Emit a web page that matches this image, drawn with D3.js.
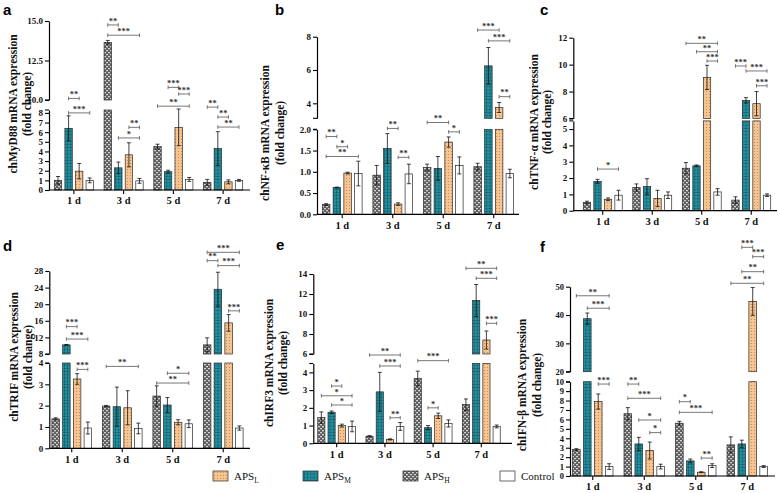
<!DOCTYPE html>
<html><head><meta charset="utf-8">
<script src="https://cdn.jsdelivr.net/npm/d3@7"></script>
<style>body{margin:0;background:#fff} svg{display:block}</style>
</head><body><svg id="c" width="778" height="493"></svg>
<script>
const days = ["1 d","3 d","5 d","7 d"];
const seriesKeys = ["H","M","L","C"];   // APS_H, APS_M, APS_L, Control (order within each day)

// a: chMyD88
const myd88Mean = [[1.0,13.65,4.5,0.8],[6.4,2.3,1.9,4.3],[1.95,3.65,6.5,0.85],[1.0,0.95,1.1,1.0]];
const myd88Err  = [[0.4,0.12,0.25,0.3],[1.3,0.6,0.15,1.75],[0.8,1.25,1.9,0.2],[0.25,0.25,0.2,0.1]];
const myd88Sig  = [[0,1,2,10.1,"**"],[0,1,3,8.0,"***"],[1,0,1,14.75,"**"],[1,0,3,14.1,"***"],[1,2,3,6.5,"**"],[1,1,3,5.4,"*"],
                   [2,1,2,10.8,"***"],[2,2,3,10.38,"***"],[2,0,3,8.7,"**"],[3,0,1,8.6,"**"],[3,1,2,7.57,"**"],[3,1,3,6.53,"**"]];
const myd88LoTicks = [0,1,2,3,4,5,6,7,8], myd88LoLabels = ["0","1","2","3","4","5","6","7","8"];
const myd88UpTicks = [10,12.5,15], myd88UpLabels = ["10.0","12.5","15.0"];

// b: chNF-κB
const nfkbMean = [[0.23,0.92,1.1,1.12],[0.63,1.55,1.08,6.25],[0.97,0.24,1.7,3.75],[0.96,0.95,1.15,0.96]];
const nfkbErr  = [[0.02,0.23,0.08,0.08],[0.01,0.35,0.28,1.1],[0.02,0.03,0.12,0.3],[0.29,0.23,0.2,0.1]];
const nfkbSig  = [[0,0,1,1.83,"**"],[0,1,2,1.59,"*"],[0,0,3,1.36,"**"],[1,1,2,2.02,"**"],[1,2,3,1.34,"**"],
                  [2,0,2,2.16,"**"],[2,2,3,1.94,"*"],[3,0,2,8.4,"***"],[3,1,3,7.75,"***"],[3,2,3,4.4,"**"]];
const nfkbLoTicks = [0,0.5,1,1.5,2], nfkbLoLabels = ["0.0","0.5","1.0","1.5","2.0"];
const nfkbUpTicks = [4,6,8], nfkbUpLabels = ["4","6","8"];

// c: chTNF-α
const tnfMean = [[0.5,1.42,2.6,0.65],[1.8,1.48,2.75,7.35],[0.7,0.75,9.05,7.1],[0.95,0.95,1.15,0.95]];
const tnfErr  = [[0.08,0.22,0.35,0.2],[0.12,0.48,0.05,0.2],[0.08,0.5,0.9,0.9],[0.3,0.2,0.2,0.08]];
const tnfSig  = [[0,1,3,2.55,"*"],[2,0,3,11.58,"**"],[2,1,3,10.96,"**"],[2,2,3,10.27,"***"],
                 [3,0,1,9.9,"***"],[3,1,3,9.53,"***"],[3,2,3,8.43,"***"]];
const tnfLoTicks = [0,1,2,3,4,5], tnfLoLabels = ["0","1","2","3","4","5"];
const tnfUpTicks = [6,8,10,12], tnfUpLabels = ["6","8","10","12"];

// d: chTRIF
const trifMean = [[1.38,1.98,2.45,10.2],[10.2,1.95,2.03,23.6],[3.25,1.9,1.22,15.5],[0.95,0.93,1.15,0.95]];
const trifErr  = [[0.05,0.03,0.48,1.7],[0.1,0.92,0.35,4.1],[0.25,0.8,0.12,2.0],[0.28,0.25,0.18,0.1]];
const trifSig  = [[0,1,2,14.6,"***"],[0,1,3,11.6,"***"],[0,2,3,3.7,"***"],[1,0,3,3.84,"**"],[2,1,3,3.52,"*"],[2,0,3,3.06,"**"],
                  [3,0,3,32.5,"***"],[3,0,1,30.5,"**"],[3,1,3,29.3,"***"],[3,2,3,18.4,"***"]];
const trifLoTicks = [0,1,2,3,4], trifLoLabels = ["0","1","2","3","4"];
const trifUpTicks = [8,12,16,20,24,28], trifUpLabels = ["8","12","16","20","24","28"];

// e: chIRF3
const irfMean = [[1.45,0.4,3.65,2.18],[1.75,2.9,0.88,11.35],[1.0,0.22,1.55,7.4],[0.95,0.95,1.12,0.95]];
const irfErr  = [[0.32,0.03,0.42,0.32],[0.07,1.1,0.12,1.6],[0.08,0.03,0.15,0.9],[0.3,0.22,0.2,0.08]];
const irfSig  = [[0,1,2,3.23,"*"],[0,0,3,2.68,"*"],[0,1,3,2.16,"*"],[1,0,3,4.98,"**"],[1,1,3,4.36,"***"],[1,2,3,1.44,"**"],
                 [2,0,3,4.66,"***"],[2,1,2,2.0,"*"],[3,0,3,14.57,"**"],[3,1,3,13.57,"***"],[3,2,3,9.07,"***"]];
const irfLoTicks = [0,1,2,3,4], irfLoLabels = ["0","1","2","3","4"];
const irfUpTicks = [6,8,10,12,14], irfUpLabels = ["6","8","10","12","14"];

// f: chIFN-β
const ifnMean = [[2.8,6.6,5.6,3.3],[38.7,3.4,1.6,3.4],[7.9,2.7,0.4,44.8],[1.0,1.0,1.1,1.0]];
const ifnErr  = [[0.1,0.65,0.2,0.85],[2.0,0.7,0.2,0.4],[0.8,0.9,0.05,4.9],[0.3,0.25,0.2,0.1]];
const ifnSig  = [[0,0,3,46.8,"**"],[0,1,3,42.4,"***"],[0,2,3,9.75,"***"],[1,0,1,9.75,"**"],[1,0,3,8.24,"***"],[1,1,3,5.94,"*"],[1,2,3,4.6,"*"],
                 [2,0,1,7.88,"*"],[2,0,3,6.75,"***"],[2,2,3,1.9,"**"],
                 [3,1,2,63.9,"***"],[3,2,3,60.6,"***"],[3,1,3,55.3,"**"],[3,0,3,51.2,"**"]];
const ifnLoTicks = [0,1,2,3,4,5,6,7,8,9,10], ifnLoLabels = ifnLoTicks.map(String);
const ifnUpTicks = [20,30,40,50], ifnUpLabels = ["20","30","40","50"];

const legendSeries = ["L","M","H","C"];
const legendSubs = {L:"L",M:"M",H:"H"};

const svg = d3.select("#c");
const defs = svg.append("defs");
// patterns
{
  const pH = defs.append("pattern").attr("id","pH").attr("patternUnits","userSpaceOnUse").attr("width",4).attr("height",4);
  pH.append("rect").attr("width",4).attr("height",4).attr("fill","#5e5e5e");
  pH.append("rect").attr("x",0).attr("y",0).attr("width",2).attr("height",1.3).attr("fill","#d2d2d2");
  pH.append("rect").attr("x",2).attr("y",2).attr("width",2).attr("height",1.3).attr("fill","#d2d2d2");
  const pM = defs.append("pattern").attr("id","pM").attr("patternUnits","userSpaceOnUse").attr("width",3.2).attr("height",3.2);
  pM.append("rect").attr("width",3.2).attr("height",3.2).attr("fill","#2391a0");
  pM.append("path").attr("d","M0,0H3.2M0,0V3.2").attr("stroke","#0b4c57").attr("stroke-width",0.9);
  const pL = defs.append("pattern").attr("id","pL").attr("patternUnits","userSpaceOnUse").attr("width",3).attr("height",3);
  pL.append("rect").attr("width",3).attr("height",3).attr("fill","#f7c591");
  pL.append("circle").attr("cx",1.5).attr("cy",1.5).attr("r",0.6).attr("fill","#c8843f");
}
const fills = {H:"url(#pH)", M:"url(#pM)", L:"url(#pL)", C:"#ffffff"};
const serif = "'Liberation Serif','Times New Roman',serif";

function drawPanel(cfg){
  const g = svg.append("g");
  const x0 = d3.scaleBand().domain(days).range(cfg.xr).paddingInner(0.15).paddingOuter(0.075);
  const x1 = d3.scaleBand().domain(seriesKeys).range([0, x0.bandwidth()]).paddingInner(0.3).paddingOuter(0.15);
  const yLo = d3.scaleLinear().domain(cfg.loD).range(cfg.loR);
  const yUp = d3.scaleLinear().domain(cfg.upD).range(cfg.upR);
  const bw = x1.bandwidth();
  // bars
  cfg.mean.forEach((row, si) => row.forEach((v, di) => {
    const key = seriesKeys[si];
    const bx = x0(days[di]) + x1(key);
    const loTop = Math.min(v, cfg.loD[1]);
    g.append("rect").attr("x",bx).attr("y",yLo(loTop)).attr("width",bw).attr("height",yLo(0)-yLo(loTop))
      .attr("fill",fills[key]).attr("stroke","#2a2a2a").attr("stroke-width",0.7);
    const inUp = v > cfg.upD[0];
    if (inUp) {
      g.append("rect").attr("x",bx).attr("y",yUp(v)).attr("width",bw).attr("height",yUp(cfg.upD[0])-yUp(v))
        .attr("fill",fills[key]).attr("stroke","#2a2a2a").attr("stroke-width",0.7);
    }
    const e = cfg.err[si][di];
    const sc = inUp ? yUp : yLo;
    const lo = inUp ? Math.max(v-e, cfg.upD[0]) : Math.max(v-e, 0);
    const cx = bx + bw/2;
    const y1 = sc(lo), y2 = sc(v+e);
    g.append("line").attr("x1",cx).attr("x2",cx).attr("y1",y1).attr("y2",y2).attr("stroke","#111").attr("stroke-width",0.8);
    g.append("line").attr("x1",cx-2).attr("x2",cx+2).attr("y1",y2).attr("y2",y2).attr("stroke","#111").attr("stroke-width",0.8);
    g.append("line").attr("x1",cx-2).attr("x2",cx+2).attr("y1",y1).attr("y2",y1).attr("stroke","#111").attr("stroke-width",0.8);
  }));
  // y axes
  const styleAxis = (sel) => {
    sel.selectAll("path.domain").attr("stroke","#000").attr("stroke-width",1.2);
    sel.selectAll(".tick line").attr("stroke","#000").attr("stroke-width",1.1);
    sel.selectAll(".tick text").attr("font-family",serif).attr("font-weight","bold").attr("font-size",cfg.tickFs||9).attr("fill","#111");
  };
  g.append("g").attr("transform",`translate(${cfg.ax},0)`)
    .call(d3.axisLeft(yLo).tickValues(cfg.loTicks).tickFormat((d,i)=>cfg.loLabels[i]).tickSize(4).tickSizeOuter(0).tickPadding(2))
    .call(styleAxis);
  g.append("g").attr("transform",`translate(${cfg.ax},0)`)
    .call(d3.axisLeft(yUp).tickValues(cfg.upTicks).tickFormat((d,i)=>cfg.upLabels[i]).tickSize(4).tickSizeOuter(0).tickPadding(2))
    .call(styleAxis);
  // break ticks at segment ends
  [yLo(cfg.loD[1]), yUp(cfg.upD[0])].forEach(yy => {
    g.append("line").attr("x1",cfg.ax-4).attr("x2",cfg.ax).attr("y1",yy).attr("y2",yy).attr("stroke","#000").attr("stroke-width",1.1);
  });
  // x axis
  const base = yLo(0);
  g.append("line").attr("x1",cfg.ax).attr("x2",cfg.xEnd).attr("y1",base).attr("y2",base).attr("stroke","#000").attr("stroke-width",1.2);
  const xa = g.append("g").attr("transform",`translate(0,${base})`)
    .call(d3.axisBottom(x0).tickSize(4).tickSizeOuter(0).tickPadding(3));
  xa.select("path.domain").remove();
  xa.selectAll(".tick line").attr("stroke","#000").attr("stroke-width",1.1);
  xa.selectAll(".tick text").attr("font-family",serif).attr("font-weight","bold").attr("font-size",10.5).attr("fill","#111");
  // significance brackets
  const yv = v => v >= cfg.upD[0] ? yUp(v) : yLo(v);
  cfg.sig.forEach(([di,a,b,v,lab]) => {
    const xa1 = x0(days[di]) + x1(seriesKeys[a]) + bw/2;
    const xb1 = x0(days[di]) + x1(seriesKeys[b]) + bw/2;
    const yy = yv(v);
    g.append("path").attr("d",`M${xa1},${yy-1.8}V${yy+1.8}M${xa1},${yy}H${xb1}M${xb1},${yy-1.8}V${yy+1.8}`)
      .attr("fill","none").attr("stroke","#555").attr("stroke-width",0.8);
    g.append("text").attr("x",(xa1+xb1)/2).attr("y",yy-1.2).attr("text-anchor","middle")
      .attr("font-family",serif).attr("font-weight","bold").attr("font-size",8.5).attr("fill","#333").text(lab);
  });
  // titles
  const tg = g.append("g").attr("font-family",serif).attr("font-weight","bold").attr("font-size",11.5).attr("fill","#111");
  cfg.title.forEach((t,i) => {
    tg.append("text").attr("transform",`translate(${cfg.titleX[i]},${cfg.titleY}) rotate(-90)`)
      .attr("text-anchor","middle").attr("dominant-baseline","central").text(t);
  });
  // panel letter
  svg.append("text").attr("x",cfg.letterPos[0]).attr("y",cfg.letterPos[1])
    .attr("font-family","'Liberation Sans',Arial,sans-serif").attr("font-weight","bold").attr("font-size",15).text(cfg.letter);
}

drawPanel({letter:"a", letterPos:[3,15], mean:myd88Mean, err:myd88Err, sig:myd88Sig,
  xr:[49,248], ax:49, xEnd:250, loD:[0,8.3], loR:[190,110], upD:[10,15], upR:[100,21],
  loTicks:myd88LoTicks, loLabels:myd88LoLabels, upTicks:myd88UpTicks, upLabels:myd88UpLabels,
  title:["chMyD88 mRNA  expression","(fold change)"], titleX:[13,27], titleY:104});
drawPanel({letter:"b", letterPos:[275,15], mean:nfkbMean, err:nfkbErr, sig:nfkbSig,
  xr:[317,519], ax:317, xEnd:519, loD:[0,2], loR:[214.3,129.3], upD:[3.1,8], upR:[118.3,36.7],
  loTicks:nfkbLoTicks, loLabels:nfkbLoLabels, upTicks:nfkbUpTicks, upLabels:nfkbUpLabels,
  title:["chNF-κB mRNA expression","(fold change)"], titleX:[265,280], titleY:133});
drawPanel({letter:"c", letterPos:[540,15], mean:tnfMean, err:tnfErr, sig:tnfSig,
  xr:[578,776], ax:573.3, xEnd:777, loD:[0,5.5], loR:[210.7,120.9], upD:[6,12], upR:[118.5,37.7],
  loTicks:tnfLoTicks, loLabels:tnfLoLabels, upTicks:tnfUpTicks, upLabels:tnfUpLabels,
  title:["chTNF-α mRNA expression","(fold change)"], titleX:[534,547], titleY:122});
drawPanel({letter:"d", letterPos:[3,251], mean:trifMean, err:trifErr, sig:trifSig,
  xr:[46.5,248.5], ax:49.3, xEnd:250, loD:[0,4], loR:[448.3,363], upD:[8,28], upR:[354,271],
  loTicks:trifLoTicks, loLabels:trifLoLabels, upTicks:trifUpTicks, upLabels:trifUpLabels,
  title:["chTRIF mRNA expression","(fold change)"], titleX:[14,28], titleY:357});
drawPanel({letter:"e", letterPos:[276,250], mean:irfMean, err:irfErr, sig:irfSig,
  xr:[312.6,505.4], ax:313.3, xEnd:512, loD:[0,4.5], loR:[443.3,363.5], upD:[6,14], upR:[354,274],
  loTicks:irfLoTicks, loLabels:irfLoLabels, upTicks:irfUpTicks, upLabels:irfUpLabels,
  title:["chIRF3 mRNA expression","(fold change)"], titleX:[269,283], titleY:363});
drawPanel({letter:"f", letterPos:[540,252], mean:ifnMean, err:ifnErr, sig:ifnSig,
  xr:[567,773], ax:570, xEnd:775, loD:[0,10], loR:[476,381.7], upD:[20,50], upR:[371.7,286.7],
  loTicks:ifnLoTicks, loLabels:ifnLoLabels, upTicks:ifnUpTicks, upLabels:ifnUpLabels, tickFs:8.5,
  title:["chIFN-β mRNA expression","(fold change)"], titleX:[522,537], titleY:385});

// legend
const legX = {L:213, M:303, H:403, C:500};
const lg = svg.append("g");
legendSeries.forEach(k => {
  lg.append("rect").attr("x",legX[k]).attr("y",471).attr("width",15).attr("height",10)
    .attr("fill",fills[k]).attr("stroke","#2a2a2a").attr("stroke-width",0.7);
  const t = lg.append("text").attr("x",legX[k]+21).attr("y",480).attr("font-family",serif).attr("font-size",11).attr("fill","#111");
  if (k === "C") t.text("Control");
  else { t.append("tspan").text("APS"); t.append("tspan").attr("font-size",7.5).attr("dy",3).text(legendSubs[k]); }
});
</script></body></html>
